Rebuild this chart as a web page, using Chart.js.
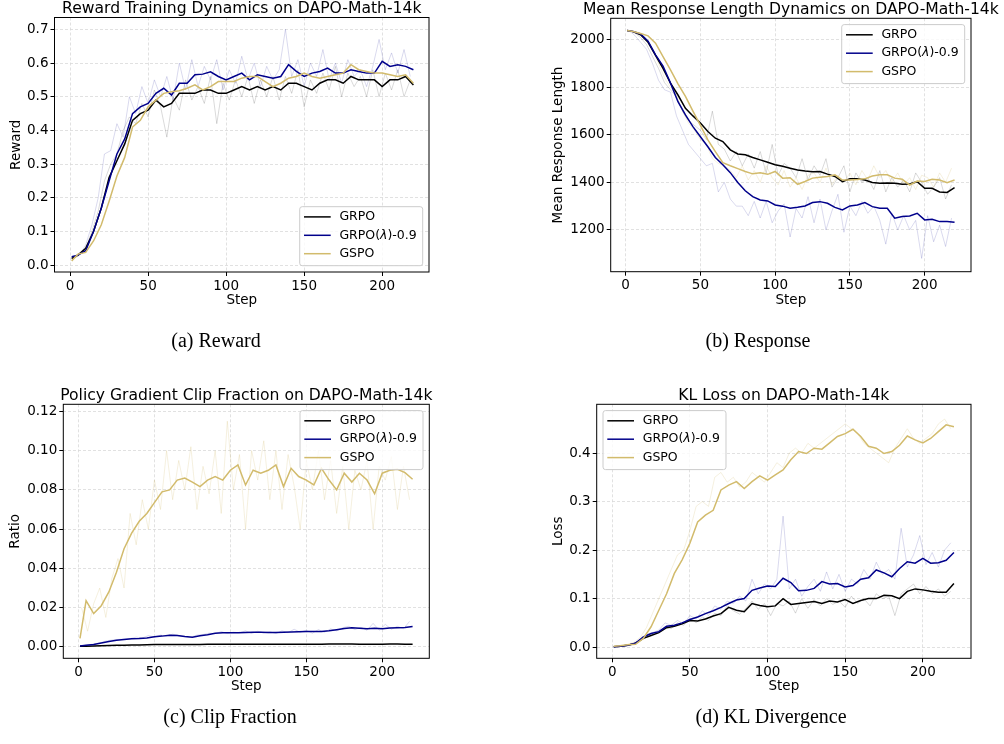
<!DOCTYPE html>
<html>
<head>
<meta charset="utf-8">
<script src="https://cdn.jsdelivr.net/npm/chart.js@4.4.1/dist/chart.umd.min.js"></script>
<style>
  body { margin: 0; background: #fff; width: 1004px; height: 744px; position: relative; overflow: hidden; }
  canvas { position: absolute; }
  .cap { position: absolute; font-family: "Liberation Serif", "Times New Roman", serif; font-size: 20px;
         line-height: 20px; color: #000; white-space: nowrap; transform: translateX(-50%); }
</style>
</head>
<body>
<canvas id="cReward" width="502" height="330" style="left:0;top:0"></canvas>
<canvas id="cResp" width="502" height="330" style="left:502px;top:0"></canvas>
<canvas id="cClip" width="502" height="340" style="left:0;top:372px"></canvas>
<canvas id="cKl" width="502" height="340" style="left:502px;top:372px"></canvas>
<div class="cap" style="left:216px;top:330px">(a) Reward</div>
<div class="cap" style="left:758px;top:330px">(b) Response</div>
<div class="cap" style="left:230px;top:706px">(c) Clip Fraction</div>
<div class="cap" style="left:771px;top:706px">(d) KL Divergence</div>
<script>
// training steps of the smoothed curves
const steps = [1,5,10,15,20,25,30,35,40,45,50,55,60,65,70,75,80,85,90,95,100,105,110,115,120,
  125,130,135,140,145,150,155,160,165,170,175,180,185,190,195,200,205,210,215,220];
// steps of the raw (faint) curves
const rawSteps = [2,6,10,14,18,22,26,30,34,38,42,46,50,54,58,62,66,70,74,78,82,86,90,94,98,102,
  106,110,114,118,122,126,130,134,138,142,146,150,154,158,162,166,170,174,178,182,186,190,194,198,
  202,206,210,214,218];
const stepTicks = [0, 50, 100, 150, 200];

// (a) reward
const rewardGrpo = [0.02,0.03,0.05,0.10,0.17,0.26,0.31,0.36,0.43,0.45,0.46,0.49,0.47,0.48,0.51,0.51,
  0.51,0.52,0.52,0.51,0.51,0.52,0.53,0.52,0.53,0.52,0.53,0.52,0.54,0.54,0.53,0.52,0.54,0.55,0.55,
  0.54,0.56,0.55,0.55,0.55,0.53,0.55,0.55,0.56,0.535];
const rewardLambda = [0.025,0.03,0.043,0.10,0.17,0.25,0.33,0.375,0.45,0.47,0.48,0.51,0.525,0.505,
  0.54,0.54,0.565,0.567,0.574,0.56,0.55,0.56,0.57,0.55,0.565,0.56,0.555,0.56,0.595,0.575,0.56,0.57,
  0.575,0.585,0.57,0.57,0.58,0.575,0.57,0.57,0.605,0.59,0.595,0.59,0.58];
const rewardGspo = [0.013,0.033,0.038,0.072,0.12,0.19,0.265,0.32,0.41,0.43,0.47,0.49,0.51,0.515,
  0.518,0.525,0.535,0.52,0.53,0.545,0.545,0.545,0.555,0.56,0.56,0.545,0.53,0.54,0.555,0.56,0.57,
  0.56,0.555,0.56,0.565,0.57,0.595,0.58,0.575,0.57,0.57,0.565,0.56,0.565,0.54];
const rewardLambdaRaw = [0.02,0.03,0.06,0.12,0.20,0.33,0.34,0.42,0.38,0.50,0.45,0.53,0.48,0.55,0.50,
  0.56,0.49,0.60,0.52,0.61,0.53,0.59,0.55,0.61,0.52,0.58,0.54,0.62,0.55,0.60,0.53,0.59,0.55,0.58,
  0.70,0.56,0.61,0.53,0.60,0.56,0.64,0.55,0.60,0.54,0.61,0.56,0.58,0.53,0.59,0.67,0.58,0.63,0.57,
  0.64,0.56];
const rewardGrpoRaw = [0.02,0.03,0.05,0.10,0.16,0.25,0.30,0.33,0.40,0.44,0.42,0.48,0.44,0.52,0.47,
  0.38,0.50,0.46,0.55,0.49,0.53,0.48,0.56,0.42,0.54,0.49,0.55,0.50,0.56,0.48,0.55,0.50,0.56,0.49,
  0.56,0.51,0.58,0.47,0.55,0.51,0.57,0.52,0.59,0.50,0.57,0.53,0.56,0.50,0.58,0.50,0.57,0.52,0.58,
  0.50,0.55];
const rewardTicks = [0.0,0.1,0.2,0.3,0.4,0.5,0.6,0.7];

// (b) mean response length
const respGrpo = [2040,2035,2022,1990,1935,1880,1818,1768,1712,1680,1650,1614,1586,1572,1537,1520,
  1516,1505,1495,1485,1474,1468,1460,1452,1448,1445,1446,1435,1425,1403,1415,1415,1410,1400,1396,
  1398,1396,1392,1393,1403,1375,1375,1360,1358,1378];
const respLambda = [2040,2035,2025,1995,1937,1890,1818,1740,1684,1635,1592,1550,1505,1474,1441,
  1400,1365,1340,1326,1322,1305,1300,1291,1295,1301,1315,1319,1312,1295,1284,1301,1305,1315,1298,
  1291,1291,1249,1256,1259,1270,1242,1245,1235,1235,1232];
const respGspo = [2040,2035,2027,2017,1986,1930,1874,1815,1762,1700,1640,1579,1530,1483,1470,1458,
  1446,1436,1441,1434,1446,1418,1420,1392,1404,1418,1422,1425,1432,1410,1410,1412,1415,1427,1432,
  1432,1418,1413,1389,1406,1404,1413,1410,1399,1410];
const respLambdaRaw = [2040,2020,1990,1960,1900,1830,1790,1780,1680,1620,1560,1530,1500,1470,1480,
  1360,1400,1330,1300,1300,1260,1320,1250,1320,1230,1280,1310,1170,1290,1250,1340,1230,1330,1200,
  1280,1350,1190,1300,1260,1320,1270,1300,1240,1140,1270,1200,1260,1200,1240,1080,1260,1150,1220,
  1130,1250];
const respGrpoRaw = [2040,2030,2010,1980,1930,1880,1820,1790,1760,1700,1660,1640,1620,1580,1700,
  1560,1540,1490,1530,1470,1520,1460,1530,1440,1560,1430,1480,1460,1420,1500,1410,1470,1430,1500,
  1380,1420,1470,1360,1440,1400,1420,1370,1450,1360,1420,1380,1410,1360,1440,1400,1350,1380,1420,
  1330,1390];
const respGspoRaw = [2040,2030,2020,2000,1960,1900,1840,1800,1770,1700,1650,1620,1580,1560,1500,
  1480,1470,1450,1420,1470,1410,1450,1400,1470,1420,1390,1450,1380,1420,1370,1430,1440,1400,1460,
  1390,1430,1400,1440,1390,1450,1410,1470,1420,1450,1400,1440,1390,1420,1370,1430,1420,1380,1440,
  1400,1460];
const respTicks = [1200,1400,1600,1800,2000];

// (c) policy gradient clip fraction
const clipGrpo = [0.0003,0.0004,0.0005,0.0006,0.0007,0.0008,0.0009,0.001,0.001,0.0011,0.0012,0.0012,
  0.0012,0.0012,0.0012,0.0012,0.0012,0.0013,0.0013,0.0013,0.0013,0.0013,0.0013,0.0013,0.0013,0.0013,
  0.0013,0.0014,0.0014,0.0014,0.0014,0.0014,0.0014,0.0015,0.0015,0.0015,0.0015,0.0014,0.0014,0.0014,
  0.0014,0.0015,0.0015,0.0014,0.0014];
const clipLambda = [0.0005,0.0008,0.0012,0.002,0.0028,0.0034,0.0038,0.0042,0.0043,0.0046,0.0052,
  0.0055,0.006,0.0058,0.0053,0.0049,0.0057,0.0062,0.007,0.0072,0.0072,0.0072,0.0074,0.0075,0.0075,
  0.0074,0.0074,0.0075,0.0076,0.0077,0.0078,0.0078,0.0079,0.0082,0.0088,0.0094,0.0098,0.0095,0.0092,
  0.0095,0.0093,0.0096,0.0098,0.0099,0.0104];
const clipGspo = [0.0044,0.0236,0.017,0.021,0.028,0.038,0.050,0.058,0.064,0.068,0.0735,0.079,0.080,
  0.085,0.086,0.084,0.0817,0.085,0.0868,0.085,0.090,0.0927,0.0825,0.090,0.0885,0.090,0.0927,0.0817,
  0.091,0.0868,0.085,0.0825,0.091,0.085,0.080,0.0885,0.084,0.0885,0.085,0.078,0.0885,0.090,0.0905,
  0.0888,0.0854];
const clipGspoRaw = [0.02,0.008,0.022,0.03,0.015,0.035,0.045,0.03,0.068,0.052,0.075,0.06,0.085,0.07,
  0.1,0.075,0.095,0.08,0.102,0.07,0.092,0.078,0.1,0.068,0.115,0.08,0.098,0.06,0.1,0.085,0.105,0.075,
  0.1,0.07,0.098,0.082,0.06,0.095,0.08,0.1,0.075,0.095,0.068,0.092,0.06,0.09,0.08,0.095,0.06,0.092,
  0.085,0.097,0.07,0.092,0.075];
const clipLambdaRaw = [0.0005,0.001,0.0015,0.002,0.003,0.0035,0.0038,0.004,0.0042,0.005,0.0045,
  0.0058,0.005,0.006,0.0055,0.0065,0.0058,0.0052,0.005,0.006,0.0063,0.007,0.0068,0.0078,0.0068,
  0.0075,0.0072,0.0082,0.0068,0.008,0.0072,0.0078,0.0068,0.0082,0.0072,0.009,0.0075,0.0085,0.007,
  0.0088,0.0075,0.0092,0.0082,0.0098,0.0105,0.0088,0.01,0.0085,0.012,0.0085,0.0115,0.009,0.0105,
  0.0092,0.013];
const clipTicks = [0.00,0.02,0.04,0.06,0.08,0.10,0.12];

// (d) KL loss
const klGrpo = [0.001,0.002,0.004,0.008,0.018,0.024,0.03,0.04,0.043,0.048,0.055,0.054,0.058,0.064,
  0.069,0.082,0.076,0.073,0.09,0.086,0.083,0.085,0.1,0.088,0.09,0.092,0.094,0.09,0.095,0.093,0.098,
  0.09,0.096,0.1,0.1,0.107,0.106,0.1,0.115,0.12,0.118,0.115,0.113,0.113,0.131];
const klLambda = [0.001,0.002,0.004,0.008,0.021,0.028,0.032,0.043,0.045,0.05,0.057,0.062,0.069,0.075,
  0.082,0.09,0.097,0.1,0.117,0.122,0.126,0.125,0.142,0.133,0.116,0.117,0.121,0.135,0.13,0.131,0.124,
  0.127,0.14,0.143,0.159,0.153,0.145,0.162,0.176,0.173,0.183,0.173,0.174,0.179,0.195];
const klGspo = [0.002,0.003,0.005,0.006,0.018,0.042,0.076,0.11,0.152,0.18,0.214,0.258,0.272,0.282,
  0.324,0.334,0.341,0.327,0.341,0.353,0.344,0.355,0.365,0.386,0.403,0.399,0.41,0.408,0.421,0.434,
  0.44,0.449,0.434,0.414,0.41,0.399,0.403,0.416,0.435,0.427,0.421,0.43,0.444,0.458,0.454];
const klLambdaRaw = [0.001,0.002,0.005,0.008,0.016,0.025,0.03,0.035,0.05,0.045,0.055,0.048,0.065,
  0.058,0.075,0.065,0.085,0.078,0.095,0.09,0.105,0.095,0.14,0.11,0.13,0.12,0.14,0.27,0.12,0.14,0.105,
  0.125,0.14,0.115,0.155,0.12,0.15,0.115,0.14,0.13,0.16,0.14,0.175,0.15,0.16,0.14,0.245,0.165,0.19,
  0.23,0.17,0.195,0.165,0.2,0.215];
const klGrpoRaw = [0.001,0.002,0.004,0.008,0.015,0.022,0.028,0.03,0.042,0.038,0.05,0.045,0.06,0.05,
  0.062,0.055,0.07,0.065,0.085,0.075,0.068,0.08,0.095,0.078,0.09,0.065,0.09,0.085,0.095,0.07,0.1,
  0.08,0.098,0.085,0.1,0.088,0.095,0.082,0.105,0.09,0.1,0.085,0.11,0.1,0.105,0.065,0.11,0.12,0.13,
  0.11,0.125,0.11,0.12,0.105,0.115];
const klGspoRaw = [0.002,0.003,0.006,0.01,0.02,0.04,0.07,0.1,0.13,0.16,0.19,0.2,0.24,0.29,0.3,0.29,
  0.35,0.36,0.34,0.35,0.33,0.34,0.36,0.35,0.34,0.36,0.38,0.37,0.4,0.41,0.4,0.42,0.41,0.42,0.43,0.44,
  0.45,0.46,0.45,0.44,0.42,0.41,0.4,0.39,0.38,0.41,0.43,0.45,0.43,0.42,0.43,0.44,0.46,0.47,0.45];
const klTicks = [0.0,0.1,0.2,0.3,0.4];

const C_GRPO = '#000000', C_LAMBDA = '#00008b', C_GSPO = '#d2bb6c';
const R_GRPO = 'rgba(0,0,0,0.15)', R_LAMBDA = 'rgba(0,0,139,0.15)', R_GSPO = 'rgba(210,187,108,0.22)';
const FONT = 'DejaVu Sans';

const pts = (xs, ys) => xs.map((x, i) => ({ x, y: ys[i] }));

function smooth(label, color, ys, order) {
  return { label, data: pts(steps, ys), borderColor: color, borderWidth: 1.5, pointRadius: 0,
           tension: 0, order };
}
function raw(color, ys) {
  return { label: '', raw: true, data: pts(rawSteps, ys), borderColor: color, borderWidth: 1,
           pointRadius: 0, tension: 0, order: 10 };
}

// title, frame and a matplotlib-like legend inside the axes
const panelDecor = {
  id: 'panelDecor',
  afterDraw(chart, args, opts) {
    const { ctx, chartArea: a } = chart;
    ctx.save();
    ctx.strokeStyle = '#000';
    ctx.lineWidth = 1;
    ctx.strokeRect(a.left, a.top, a.right - a.left, a.bottom - a.top);

    ctx.fillStyle = '#000';
    ctx.font = `15.6px "${FONT}"`;
    ctx.textAlign = 'center';
    ctx.textBaseline = 'alphabetic';
    ctx.fillText(opts.title, (a.left + a.right) / 2, a.top - 4.5);

    const items = chart.data.datasets.filter(d => !d.raw);
    const fs = 12.5, inset = 6.3, rowH = 18.4, boxH = 59;
    const labelW = lbl => lbl.split('λ').reduce((w, p, k, arr) => {
      ctx.font = `${fs}px "${FONT}"`;
      let add = ctx.measureText(p).width;
      if (k < arr.length - 1) { ctx.font = `italic ${fs}px "${FONT}"`; add += ctx.measureText('λ').width; }
      return w + add;
    }, 0);
    const textW = Math.max(...items.map(d => labelW(d.label)));
    const boxW = 39.7 + textW + 6;
    const bx = opts.corner.includes('left') ? a.left + inset : a.right - inset - boxW;
    const by = opts.corner.includes('upper') ? a.top + inset : a.bottom - inset - boxH;
    ctx.beginPath();
    ctx.roundRect(bx, by, boxW, boxH, 2.5);
    ctx.fillStyle = 'rgba(255,255,255,0.8)';
    ctx.fill();
    ctx.strokeStyle = '#cccccc';
    ctx.stroke();
    items.forEach((d, i) => {
      const y = by + 10.2 + i * rowH;
      ctx.beginPath();
      ctx.moveTo(bx + 4.3, y);
      ctx.lineTo(bx + 31, y);
      ctx.strokeStyle = d.borderColor;
      ctx.lineWidth = 1.5;
      ctx.stroke();
      ctx.fillStyle = '#000';
      ctx.textAlign = 'left';
      ctx.textBaseline = 'middle';
      let x = bx + 39.7;
      const parts = d.label.split('λ');
      parts.forEach((p, k) => {
        ctx.font = `${fs}px "${FONT}"`;
        ctx.fillText(p, x, y);
        x += ctx.measureText(p).width;
        if (k < parts.length - 1) {
          ctx.font = `italic ${fs}px "${FONT}"`;
          ctx.fillText('λ', x, y);
          x += ctx.measureText('λ').width;
        }
      });
    });
    ctx.restore();
  }
};

function buildPanel(id, cfg) {
  const font = { family: FONT, size: 13.5 };
  const gridColor = '#d9d9d9';
  new Chart(document.getElementById(id), {
    type: 'line',
    data: { datasets: cfg.datasets },
    options: {
      responsive: false,
      animation: false,
      devicePixelRatio: 1,
      layout: { padding: cfg.pad },
      plugins: {
        legend: { display: false },
        tooltip: { enabled: false },
        panelDecor: { title: cfg.title, corner: cfg.corner }
      },
      scales: {
        x: {
          type: 'linear', min: cfg.xMin, max: cfg.xMax,
          afterBuildTicks: s => { s.ticks = stepTicks.map(v => ({ value: v })); },
          afterFit: s => { s.height = cfg.xH; },
          ticks: { font, color: '#000', padding: 2, autoSkip: false, maxRotation: 0, callback: v => String(v) },
          grid: { color: gridColor, lineWidth: 0.8, tickColor: '#000', tickLength: 4, tickWidth: 1 },
          border: { display: false, dash: [3, 2] },
          title: { display: true, text: 'Step', font, color: '#000', padding: { top: 4, bottom: 4 } }
        },
        y: {
          type: 'linear', min: cfg.yMin, max: cfg.yMax,
          afterBuildTicks: s => { s.ticks = cfg.yTicks.map(v => ({ value: v })); },
          afterFit: s => { s.width = cfg.yW; },
          ticks: { font, color: '#000', padding: 2, autoSkip: false, callback: v => v.toFixed(cfg.dec) },
          grid: { color: gridColor, lineWidth: 0.8, tickColor: '#000', tickLength: 4, tickWidth: 1 },
          border: { display: false, dash: [3, 2] },
          title: { display: true, text: cfg.yLabel, font, color: '#000', padding: { top: 4, bottom: 4 } }
        }
      }
    },
    plugins: [panelDecor]
  });
}

buildPanel('cReward', {
  title: 'Reward Training Dynamics on DAPO-Math-14k', yLabel: 'Reward', corner: 'lower right',
  xMin: -10, xMax: 230, yMin: -0.02, yMax: 0.735, yTicks: rewardTicks, dec: 1,
  pad: { left: 4.6, top: 17.5, right: 73, bottom: 17.9 }, yW: 49.9, xH: 40.1,
  datasets: [
    smooth('GRPO', C_GRPO, rewardGrpo, 3),
    smooth('GRPO(λ)-0.9', C_LAMBDA, rewardLambda, 2),
    smooth('GSPO', C_GSPO, rewardGspo, 1),
    raw(R_LAMBDA, rewardLambdaRaw),
    raw(R_GRPO, rewardGrpoRaw)
  ]
});

buildPanel('cResp', {
  title: 'Mean Response Length Dynamics on DAPO-Math-14k', yLabel: 'Mean Response Length', corner: 'upper right',
  xMin: -10, xMax: 231, yMin: 1024, yMax: 2091, yTicks: respTicks, dec: 0,
  pad: { left: 44.2, top: 18.3, right: 33, bottom: 17.9 }, yW: 64.5, xH: 40.4,
  datasets: [
    smooth('GRPO', C_GRPO, respGrpo, 3),
    smooth('GRPO(λ)-0.9', C_LAMBDA, respLambda, 2),
    smooth('GSPO', C_GSPO, respGspo, 1),
    raw(R_LAMBDA, respLambdaRaw),
    raw(R_GRPO, respGrpoRaw),
    raw(R_GSPO, respGspoRaw)
  ]
});

buildPanel('cClip', {
  title: 'Policy Gradient Clip Fraction on DAPO-Math-14k', yLabel: 'Ratio', corner: 'upper right',
  xMin: -10, xMax: 231, yMin: -0.0058, yMax: 0.1236, yTicks: clipTicks, dec: 2,
  pad: { left: 3.6, top: 32.3, right: 72.7, bottom: 13.9 }, yW: 59.7, xH: 39.8,
  datasets: [
    smooth('GRPO', C_GRPO, clipGrpo, 3),
    smooth('GRPO(λ)-0.9', C_LAMBDA, clipLambda, 2),
    smooth('GSPO', C_GSPO, clipGspo, 1),
    raw(R_GSPO, clipGspoRaw),
    raw(R_LAMBDA, clipLambdaRaw)
  ]
});

buildPanel('cKl', {
  title: 'KL Loss on DAPO-Math-14k', yLabel: 'Loss', corner: 'upper left',
  xMin: -10, xMax: 231, yMin: -0.023, yMax: 0.5004, yTicks: klTicks, dec: 1,
  pad: { left: 44.2, top: 32.3, right: 33, bottom: 13.9 }, yW: 50.5, xH: 39.8,
  datasets: [
    smooth('GRPO', C_GRPO, klGrpo, 3),
    smooth('GRPO(λ)-0.9', C_LAMBDA, klLambda, 2),
    smooth('GSPO', C_GSPO, klGspo, 1),
    raw(R_LAMBDA, klLambdaRaw),
    raw(R_GRPO, klGrpoRaw),
    raw(R_GSPO, klGspoRaw)
  ]
});
</script>
</body>
</html>
